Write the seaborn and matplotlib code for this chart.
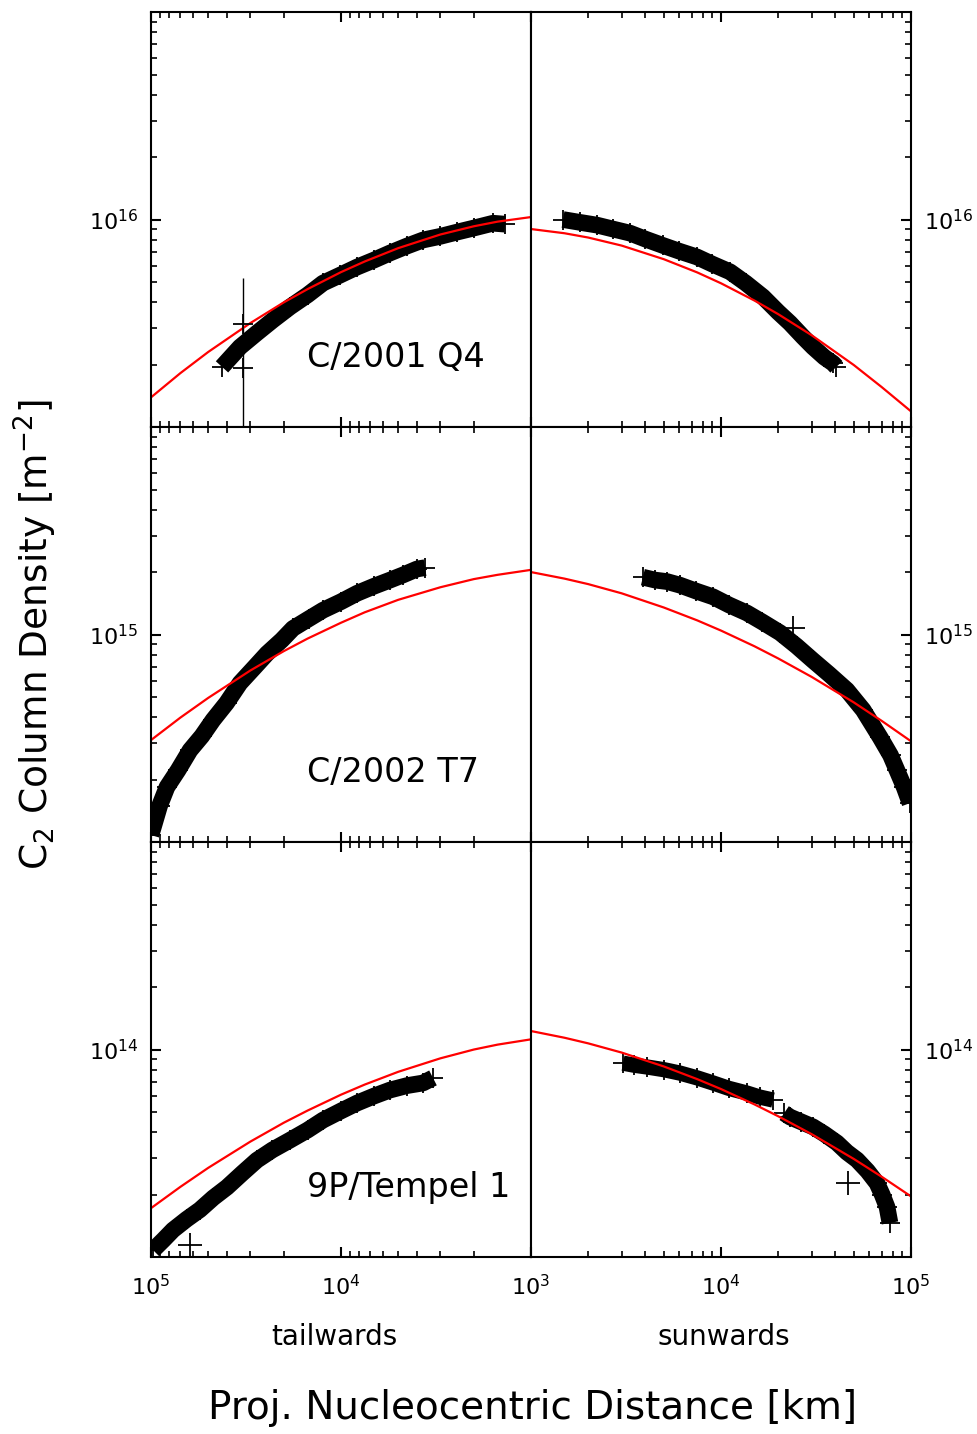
import numpy as np
import matplotlib
matplotlib.use('Agg')
import matplotlib.pyplot as plt
from matplotlib.ticker import LogLocator, NullFormatter
import seaborn as sns

sns.set_style('ticks')
plt.rcParams['font.family'] = ['DejaVu Sans']
plt.rcParams['mathtext.fontset'] = 'dejavusans'
for key in ['text.color', 'axes.labelcolor', 'xtick.color', 'ytick.color', 'axes.edgecolor']:
    plt.rcParams[key] = 'black'

comets = ['C/2001 Q4', 'C/2002 T7', '9P/Tempel 1']
mid_decade = [16, 15, 14]

# distance grid the model curves were read on (km)
model_dist = [1000, 1500, 2000, 3000, 5000, 7500, 10000, 15000, 20000, 30000, 50000, 70000, 100000]

# ---- C/2001 Q4 (distances in km, column densities in m^-2)
q4_tail_dist = [42300, 38400, 34000, 27700, 22800, 18550, 15000, 12440, 10100, 8240,
                6700, 5520, 4500, 3700, 3000, 2450, 2000, 1585, 1370]
q4_tail_dens = [1.95e15, 2.15e15, 2.43e15, 2.84e15, 3.28e15, 3.79e15, 4.33e15, 4.94e15, 5.4e15, 5.9e15,
                6.38e15, 6.9e15, 7.45e15, 7.97e15, 8.3e15, 8.7e15, 9.1e15, 9.6e15, 9.5e15]
q4_sun_dist = [1474, 1800, 2225, 2700, 3320, 4000, 4950, 6000, 7480, 9000,
               11150, 13500, 16630, 20000, 23070, 27000, 30500, 35000, 38850, 40500]
q4_sun_dens = [1.0e16, 9.7e15, 9.4e15, 9.0e15, 8.6e15, 8.05e15, 7.5e15, 7.05e15, 6.6e15, 6.1e15,
               5.6e15, 4.94e15, 4.24e15, 3.58e15, 3.17e15, 2.72e15, 2.43e15, 2.17e15, 2.03e15, 1.95e15]
q4_odd_dist = [32800, 32800]
q4_odd_dens = [3.13e15, 1.92e15]
q4_odd_err_lo = [2.7e15, 0.0]
q4_odd_err_hi = [2.07e15, 0.0]
q4_model_tail = [1.028e16, 9.77e15, 9.28e15, 8.47e15, 7.28e15, 6.28e15, 5.58e15, 4.62e15,
                 3.99e15, 3.17e15, 2.30e15, 1.82e15, 1.39e15]
q4_model_sun = [9.0e15, 8.59e15, 8.19e15, 7.49e15, 6.44e15, 5.56e15, 4.93e15, 4.07e15,
                3.50e15, 2.77e15, 1.99e15, 1.56e15, 1.19e15]

# ---- C/2002 T7
t7_tail_dist = [100000, 90000, 82400, 72000, 62300, 54000, 47200, 40000, 34000, 28500, 24500,
                20500, 17900, 14800, 12440, 10000, 8240, 6700, 5520, 4700, 3980, 3610]
t7_tail_dens = [1.08e14, 1.5e14, 1.84e14, 2.22e14, 2.77e14, 3.24e14, 3.87e14, 4.68e14, 5.84e14,
                6.96e14, 8.1e14, 9.4e14, 1.07e15, 1.19e15, 1.31e15, 1.44e15, 1.58e15, 1.71e15,
                1.83e15, 1.94e15, 2.07e15, 2.1e15]
t7_sun_dist = [3880, 4500, 5200, 6080, 7400, 9080, 11000, 13700, 16500, 20460, 25000, 30500,
               37000, 46000, 56000, 68700, 78000, 84300, 92000, 98800]
t7_sun_dens = [1.89e15, 1.83e15, 1.8e15, 1.73e15, 1.62e15, 1.52e15, 1.39e15, 1.27e15, 1.15e15,
               1.02e15, 8.8e14, 7.5e14, 6.45e14, 5.4e14, 4.33e14, 3.2e14, 2.62e14, 2.22e14,
               1.84e14, 1.54e14]
t7_odd_dist = [23900]
t7_odd_dens = [1.07e15]
t7_model_tail = [2.05e15, 1.94e15, 1.85e15, 1.69e15, 1.47e15, 1.28e15, 1.14e15, 9.56e14,
                 8.32e14, 6.71e14, 4.95e14, 3.98e14, 3.10e14]
t7_model_sun = [2.0e15, 1.86e15, 1.75e15, 1.58e15, 1.35e15, 1.17e15, 1.045e15, 8.78e14,
                7.67e14, 6.25e14, 4.71e14, 3.84e14, 3.06e14]

# ---- 9P/Tempel 1
t1_tail_dist = [97500, 86000, 76600, 65000, 55300, 47000, 39800, 33000, 27700, 23000, 18550,
                15000, 12440, 10000, 8240, 6700, 5520, 4500, 3700, 3280]
t1_tail_dens = [1.08e13, 1.21e13, 1.35e13, 1.52e13, 1.69e13, 1.93e13, 2.17e13, 2.54e13, 2.93e13,
                3.28e13, 3.66e13, 4.09e13, 4.57e13, 5.06e13, 5.52e13, 5.97e13, 6.38e13, 6.7e13,
                6.9e13, 7.3e13]
t1_sun_near_dist = [3050, 3500, 4080, 5000, 6080, 7500, 9080, 11000, 13700, 16000, 18790]
t1_sun_near_dens = [8.6e13, 8.4e13, 8.24e13, 8.0e13, 7.7e13, 7.3e13, 6.9e13, 6.5e13, 6.17e13,
                    5.9e13, 5.71e13]
t1_sun_far_dist = [21500, 23070, 26500, 30500, 35000, 40800, 46000, 52000, 59000, 66200, 70500,
                   74800, 77500]
t1_sun_far_dens = [4.94e13, 4.73e13, 4.48e13, 4.24e13, 3.92e13, 3.55e13, 3.2e13, 2.94e13, 2.6e13,
                   2.27e13, 2.0e13, 1.74e13, 1.46e13]
t1_odd_tail_dist = [62300]
t1_odd_tail_dens = [1.14e13]
t1_odd_sun_dist = [46600]
t1_odd_sun_dens = [2.27e13]
t1_model_tail = [1.12e14, 1.056e14, 1.0e14, 9.07e13, 7.81e13, 6.78e13, 6.06e13, 5.08e13,
                 4.44e13, 3.60e13, 2.69e13, 2.18e13, 1.72e13]
t1_model_sun = [1.228e14, 1.14e14, 1.071e14, 9.67e13, 8.29e13, 7.20e13, 6.45e13, 5.44e13,
                4.77e13, 3.91e13, 2.97e13, 2.44e13, 1.96e13]


def draw_data(ax, dist, dens, band=12):
    sns.lineplot(x=dist, y=dens, ax=ax, color='black', lw=band, sort=False,
                 estimator=None, solid_capstyle='butt')
    sns.scatterplot(x=dist, y=dens, ax=ax, color='black', marker='+', s=200,
                    linewidth=1.3)


def draw_odd(ax, dist, dens):
    sns.scatterplot(x=dist, y=dens, ax=ax, color='black', marker='+', s=300,
                    linewidth=1.3)


def draw_model(ax, dens):
    sns.lineplot(x=model_dist, y=dens, ax=ax, color='red', lw=1.6, sort=False,
                 estimator=None)


def style_axis(ax, row, side):
    ax.set_xscale('log')
    ax.set_yscale('log')
    dec = mid_decade[row]
    ax.set_ylim(10.0 ** (dec - 1), 10.0 ** (dec + 1))
    if side == 'tail':
        ax.set_xlim(1e5, 1e3)
        ax.set_xticks([1e5, 1e4, 1e3], [r'$10^5$', r'$10^4$', r'$10^3$'])
        ax.yaxis.set_ticks_position('left')
    else:
        ax.set_xlim(1e3, 1e5)
        ax.set_xticks([1e3, 1e4, 1e5], ['', r'$10^4$', r'$10^5$'])
        ax.yaxis.tick_right()
        ax.yaxis.set_label_position('right')
    ax.set_yticks([10.0 ** dec], [r'$10^{%d}$' % dec])
    subs = np.arange(2, 10) * 1.0
    ax.xaxis.set_minor_locator(LogLocator(base=10, subs=subs, numticks=30))
    ax.yaxis.set_minor_locator(LogLocator(base=10, subs=subs, numticks=30))
    ax.xaxis.set_minor_formatter(NullFormatter())
    ax.yaxis.set_minor_formatter(NullFormatter())
    ax.xaxis.set_ticks_position('both')
    ax.tick_params(which='major', direction='in', length=7, width=1.5,
                   labelsize=16, pad=9, colors='black')
    ax.tick_params(which='minor', direction='in', length=4, width=1.2)
    ax.tick_params(axis='x', labelbottom=(row == 2), pad=12)
    for sp in ax.spines.values():
        sp.set_linewidth(1.5)
        sp.set_color('black')
    ax.set_xlabel('')
    ax.set_ylabel('')


fig, axes = plt.subplots(3, 2, figsize=(9.78, 14.34), dpi=100)
fig.subplots_adjust(left=0.1544, right=0.9315, top=0.9916, bottom=0.1234,
                    wspace=0, hspace=0)

for row in range(3):
    for col, side in enumerate(['tail', 'sun']):
        style_axis(axes[row, col], row, side)

# row 1: C/2001 Q4
ax_t, ax_s = axes[0]
draw_data(ax_t, q4_tail_dist, q4_tail_dens, band=12)
ax_t.errorbar(q4_odd_dist, q4_odd_dens, yerr=[q4_odd_err_lo, q4_odd_err_hi],
              fmt='+', color='black', ms=14, mew=1.3, elinewidth=1.0)
draw_model(ax_t, q4_model_tail)
draw_data(ax_s, q4_sun_dist, q4_sun_dens, band=12)
draw_model(ax_s, q4_model_sun)

# row 2: C/2002 T7
ax_t, ax_s = axes[1]
draw_data(ax_t, t7_tail_dist, t7_tail_dens, band=12)
draw_model(ax_t, t7_model_tail)
draw_data(ax_s, t7_sun_dist, t7_sun_dens, band=12)
draw_odd(ax_s, t7_odd_dist, t7_odd_dens)
draw_model(ax_s, t7_model_sun)

# row 3: 9P/Tempel 1
ax_t, ax_s = axes[2]
draw_data(ax_t, t1_tail_dist, t1_tail_dens, band=12)
draw_odd(ax_t, t1_odd_tail_dist, t1_odd_tail_dens)
draw_model(ax_t, t1_model_tail)
draw_data(ax_s, t1_sun_near_dist, t1_sun_near_dens, band=11)
draw_data(ax_s, t1_sun_far_dist, t1_sun_far_dens, band=12)
draw_odd(ax_s, t1_odd_sun_dist, t1_odd_sun_dens)
draw_model(ax_s, t1_model_sun)

for row, name in enumerate(comets):
    axes[row, 0].text(0.41, 0.145, name, transform=axes[row, 0].transAxes,
                      fontsize=24, ha='left', va='baseline')

fig.text(0.0365, 0.5575, r'C$_2$ Column Density [m$^{-2}$]', rotation=90,
         fontsize=27, ha='center', va='center')
fig.text(0.3415, 0.0676, 'tailwards', fontsize=20, ha='center', va='center')
fig.text(0.740, 0.0676, 'sunwards', fontsize=20, ha='center', va='center')
fig.text(0.545, 0.018, 'Proj. Nucleocentric Distance [km]', fontsize=28,
         ha='center', va='center')

fig.savefig('out.png', dpi=100)
plt.close()
